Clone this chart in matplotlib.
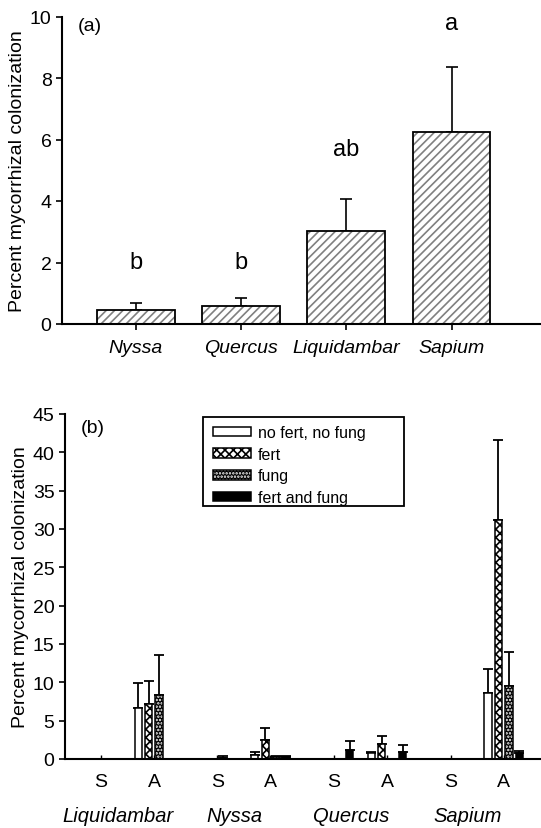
import matplotlib
matplotlib.use("Agg")
import matplotlib.pyplot as plt
import numpy as np
from matplotlib.patches import Patch, Rectangle
from matplotlib.legend_handler import HandlerTuple

plt.rcParams['font.family'] = ['Liberation Sans', 'DejaVu Sans']
plt.rcParams['hatch.linewidth'] = 1.2

# %% Data, panel (a)
species_a = ['Nyssa', 'Quercus', 'Liquidambar', 'Sapium']
mean_a = [0.45, 0.58, 3.03, 6.24]
err_a = [0.23, 0.26, 1.04, 2.11]
letters_a = ['b', 'b', 'ab', 'a']
letter_y = [2.0, 2.0, 5.7, 9.8]

# %% Data, panel (b)  order: Liq S, Liq A, Nys S, Nys A, Que S, Que A, Sap S, Sap A
species_b = ['Liquidambar', 'Nyssa', 'Quercus', 'Sapium']
site_labels = ['S', 'A']
treatments = ['no fert, no fung', 'fert', 'fung', 'fert and fung']
mean_b = {
    'no fert, no fung': [0, 6.7, 0, 0.5, 0, 0.75, 0, 8.6],
    'fert':             [0, 7.2, 0, 2.5, 0, 1.95, 0, 31.2],
    'fung':             [0, 8.4, 0.15, 0.3, 0, 0, 0, 9.5],
    'fert and fung':    [0, 0, 0, 0.3, 1.2, 0.87, 0, 0.75],
}
err_b = {
    'no fert, no fung': [0, 3.2, 0, 0.4, 0, 0.2, 0, 3.1],
    'fert':             [0, 3.0, 0, 1.6, 0, 1.0, 0, 10.4],
    'fung':             [0, 5.2, 0.25, 0.1, 0, 0, 0, 4.4],
    'fert and fung':    [0, 0, 0, 0.1, 1.1, 0.96, 0, 0.35],
}

fig = plt.figure(figsize=(5.41, 8.29), dpi=100)

# %% Panel (a)
ax1 = fig.add_axes([62 / 541, 1 - 325 / 829, 1 - 62 / 541, (325 - 17.5) / 829])
xa = np.arange(len(species_a))
ax1.bar(xa, mean_a, width=0.74, color='white', edgecolor='#808080', linewidth=0,
        hatch='////', zorder=2)
ax1.bar(xa, mean_a, width=0.74, fill=False, edgecolor='black', linewidth=1.3, zorder=3)
ax1.errorbar(xa, mean_a, yerr=[np.zeros(len(err_a)), err_a], fmt='none',
             ecolor='black', elinewidth=1.2, capsize=4, capthick=1.2, zorder=1)
for x, t, y in zip(xa, letters_a, letter_y):
    ax1.text(x, y, t, ha='center', va='center', fontsize=17)
ax1.text(-0.44, 9.7, '(a)', ha='center', va='center', fontsize=14)
ax1.set_xlim(-0.70, 3.85)
ax1.set_ylim(0, 10)
ax1.set_yticks([0, 2, 4, 6, 8, 10])
ax1.set_xticks(xa)
ax1.set_xticklabels(species_a, fontstyle='italic', fontsize=14.5)
ax1.set_ylabel('Percent mycorrhizal colonization', fontsize=14, labelpad=3)
ax1.tick_params(axis='both', direction='out', length=4, width=1.2, labelsize=14)
ax1.tick_params(axis='x', pad=7)
for s in ['top', 'right']:
    ax1.spines[s].set_visible(False)
for s in ['left', 'bottom']:
    ax1.spines[s].set_linewidth(1.5)

# %% Panel (b)
ax2 = fig.add_axes([65 / 541, 1 - 760 / 829, 1 - 65 / 541, (760 - 415) / 829])
half = 0.2275
pos = []
for i in range(len(species_b)):
    pos += [i - half, i + half]
pos = np.array(pos)
bw = 0.064
step = 0.09
offsets = [-1.5, -0.5, 0.5, 1.5]

styles = {
    'no fert, no fung': dict(color='white', edgecolor='black', hatch=None),
    'fert':             dict(color='white', edgecolor='black', hatch='xxxx'),
    'fung':             dict(color='black', edgecolor='white', hatch='.....'),
    'fert and fung':    dict(color='black', edgecolor='black', hatch=None),
}

handles = []
for tr, off in zip(treatments, offsets):
    xs = pos + off * step
    vals = np.array(mean_b[tr])
    errs = np.array(err_b[tr])
    st = styles[tr]
    ax2.bar(xs, vals, width=bw, color=st['color'], edgecolor=st['edgecolor'],
            hatch=st['hatch'], linewidth=0, zorder=2)
    ax2.bar(xs, vals, width=bw, fill=False, edgecolor='black', linewidth=1.1, zorder=3)
    m = errs > 0
    ax2.errorbar(xs[m], vals[m], yerr=[np.zeros(m.sum()), errs[m]], fmt='none',
                 ecolor='black', elinewidth=1.3, capsize=3.5, capthick=1.3, zorder=1)
    fill = Patch(facecolor=st['color'], edgecolor=st['edgecolor'], hatch=st['hatch'], linewidth=0)
    outline = Patch(fill=False, edgecolor='black', linewidth=1.1)
    handles.append((fill, outline))

ax2.set_xlim(-0.536, 3.549)
ax2.set_ylim(0, 45)
ax2.set_yticks(np.arange(0, 46, 5))
ax2.set_xticks(pos)
ax2.set_xticklabels(site_labels * len(species_b), fontsize=14)
ax2.tick_params(axis='y', direction='out', length=4, width=1.2, labelsize=14)
ax2.tick_params(axis='x', direction='in', length=3, width=1.0, pad=10)
for i, name in enumerate(species_b):
    ax2.text(i - 0.08, -0.165, name, transform=ax2.get_xaxis_transform(),
             ha='center', va='center', fontsize=14.5, fontstyle='italic')
ax2.text(-0.30, 43.2, '(b)', ha='center', va='center', fontsize=14)
ax2.set_ylabel('Percent mycorrhizal colonization', fontsize=14, labelpad=3)
for s in ['top', 'right']:
    ax2.spines[s].set_visible(False)
for s in ['left', 'bottom']:
    ax2.spines[s].set_linewidth(1.5)

# legend entries without frame, frame drawn as its own box
leg = fig.legend(handles, treatments, handler_map={tuple: HandlerTuple(ndivide=1)},
                 loc='upper left', bbox_to_anchor=(213 / 541, 1 - 426 / 829),
                 fontsize=11.5, frameon=False,
                 handlelength=2.4, handleheight=0.55, handletextpad=0.4,
                 labelspacing=0.42, borderpad=0.0, borderaxespad=0)
fig.patches.append(Rectangle((203 / 541, 1 - 507 / 829), 201 / 541, 89 / 829,
                             transform=fig.transFigure, fill=False,
                             edgecolor='black', linewidth=1.3, zorder=5))

plt.savefig('out.png', dpi=100)
